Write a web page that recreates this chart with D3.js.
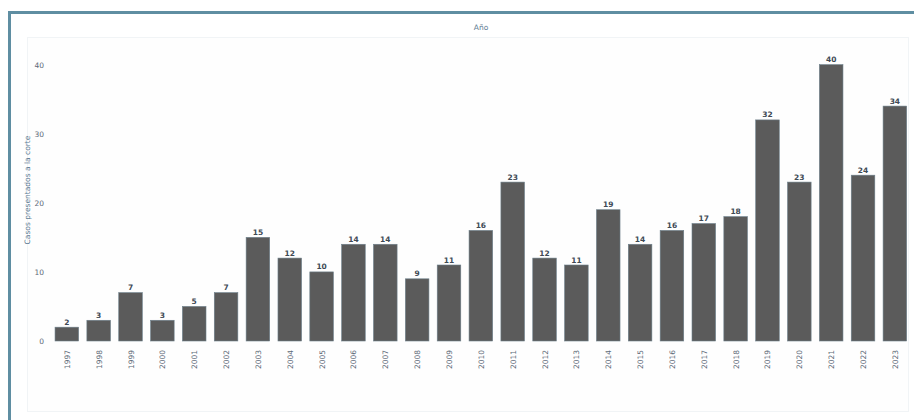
<!DOCTYPE html>
<html>
<head>
<meta charset="utf-8">
<script src="https://cdn.jsdelivr.net/npm/d3@7"></script>
<style>
  html, body { margin: 0; padding: 0; background: #ffffff; }
  svg { display: block; font-family: "DejaVu Sans", sans-serif; }
</style>
</head>
<body>
<svg id="chart" width="914" height="420"></svg>
<script>
const years = ["1997","1998","1999","2000","2001","2002","2003","2004","2005","2006","2007","2008","2009","2010","2011","2012","2013","2014","2015","2016","2017","2018","2019","2020","2021","2022","2023"];
const cases = [2,3,7,3,5,7,15,12,10,14,14,9,11,16,23,12,11,19,14,16,17,18,32,23,40,24,34];
const yTicks = [0,10,20,30,40];
const titleText = "Año";
const yLabel = "Casos presentados a la corte";

const svg = d3.select("#chart");

// outer frame (top + left visible)
svg.append("rect").attr("x", 9.5).attr("y", 12.5).attr("width", 920).attr("height", 420)
  .attr("fill", "#ffffff").attr("stroke", "#5f8ea2").attr("stroke-width", 3);

// faint plot area
svg.append("rect").attr("x", 27.5).attr("y", 37.5).attr("width", 881).attr("height", 374)
  .attr("fill", "#fefefe").attr("stroke", "#f1f4f6").attr("stroke-width", 1);

const x = d3.scaleBand().domain(years).range([50.9, 910.8]).paddingInner(0.26).paddingOuter(0.13);
const y = d3.scaleLinear().domain([0, 44]).range([341, 37]);

// title
svg.append("text").attr("x", 481).attr("y", 30).attr("text-anchor", "middle")
  .attr("font-size", 7.5).attr("fill", "#5d7a92").text(titleText);

// y label
svg.append("text").attr("transform", "translate(30,190) rotate(-90)").attr("text-anchor", "middle")
  .attr("font-size", 7.5).attr("fill", "#5d7a92").text(yLabel);

// y axis
const yAxis = svg.append("g").attr("transform", "translate(44,0)")
  .call(d3.axisLeft(y).tickValues(yTicks).tickSize(0).tickPadding(0));
yAxis.select(".domain").remove();
yAxis.selectAll("text").attr("font-size", 7.5).attr("fill", "#5d6a78").attr("font-family", "DejaVu Sans, sans-serif");

// x axis
const xAxis = svg.append("g").attr("transform", "translate(0,341)")
  .call(d3.axisBottom(x).tickSize(0).tickPadding(0));
xAxis.select(".domain").remove();
xAxis.selectAll("text")
  .attr("font-size", 7.5).attr("fill", "#5d6a78").attr("font-family", "DejaVu Sans, sans-serif")
  .attr("text-anchor", "end").attr("dy", null)
  .attr("transform", "translate(3,9) rotate(-90)");

// bars
svg.append("g").selectAll("rect").data(years).join("rect")
  .attr("x", d => x(d)).attr("width", x.bandwidth())
  .attr("y", (d, i) => y(cases[i])).attr("height", (d, i) => y(0) - y(cases[i]))
  .attr("fill", "#5b5b5b").attr("stroke", "#6c7f8a").attr("stroke-width", 0.6);

// value labels
svg.append("g").selectAll("text").data(years).join("text")
  .attr("x", d => x(d) + x.bandwidth() / 2).attr("y", (d, i) => y(cases[i]) - 2.5)
  .attr("text-anchor", "middle").attr("font-size", 7.5).attr("font-weight", "bold")
  .attr("fill", "#3f4a55").text((d, i) => cases[i]);
</script>
</body>
</html>
